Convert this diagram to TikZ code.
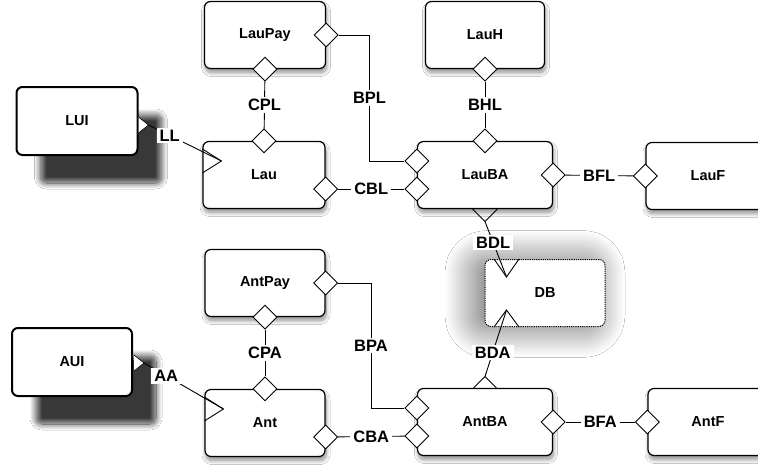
\documentclass[tikz,border=0pt]{standalone}
\usepackage{fontspec}
\setmainfont{Liberation Sans}
\usetikzlibrary{shapes.geometric,calc,shadows,shadows.blur}

\begin{document}
\begin{tikzpicture}[x=1pt, y=-1pt,
    cell/.style={draw, rounded corners=6pt, fill=white, line width=1.2pt,
        minimum height=67pt, inner sep=0pt, font=\fontsize{14.5}{16}\selectfont\bfseries},
    box/.style={cell, blur shadow={shadow xshift=1pt, shadow yshift=-4pt,
        shadow blur radius=4pt, shadow blur steps=12, shadow opacity=45}},
    uibox/.style={cell, line width=2pt, minimum height=68pt, blur shadow={shadow xshift=24pt,
        shadow yshift=-28pt, shadow blur radius=6pt, shadow blur steps=15, shadow opacity=78}},
    dbbox/.style={cell, densely dotted, line width=1pt, blur shadow={shadow xshift=-10pt,
        shadow yshift=-1pt, shadow blur radius=30pt, shadow blur extra rounding=12pt,
        shadow blur steps=40, shadow opacity=60}},
    dmd/.style={diamond, draw, fill=white, inner sep=0pt, minimum size=24pt, line width=0.9pt},
    link/.style={line width=0.9pt},
    lbl/.style={fill=white, inner xsep=3pt, inner ysep=2pt, font=\fontsize{16.5}{18}\selectfont\bfseries}
]
    % Canvas
    \fill[white] (0,0) rectangle (758,467);
    \useasboundingbox (0,0) rectangle (758,467);

    % Boxes
    \foreach \name/\x/\y/\w/\sty in {
        LUI/77/121/121/uibox,
        AUI/72/362/120/uibox,
        LauPay/265/35/121/box,
        LauH/485/35/119/box,
        Lau/264/175/122/box,
        LauBA/485/175/135/box,
        LauF/708/176/124/box,
        AntPay/265/283/120/box,
        Ant/265/423/120/box,
        AntBA/485/422/135/box,
        AntF/708/422/120/box,
        DB/545/293/120/dbbox} {
        \node[\sty, minimum width=\w pt] (\name) at (\x,\y) {\name};
    }

    % Diamond ends
    \foreach \d/\anc/\dy in {
        LauPay-r/LauPay.east/0, LauPay-b/LauPay.south/0,
        LauH-b/LauH.south/0,
        Lau-t/Lau.north/0, Lau-r/Lau.east/-14,
        LauBA-t/LauBA.north/0, LauBA-r/LauBA.east/0,
        LauBA-ul/LauBA.west/14, LauBA-ll/LauBA.west/-14,
        LauF-l/LauF.west/0,
        AntPay-r/AntPay.east/0, AntPay-b/AntPay.south/0,
        Ant-t/Ant.north/0, Ant-r/Ant.east/-14,
        AntBA-r/AntBA.east/0,
        AntBA-ul/AntBA.west/14, AntBA-ll/AntBA.west/-14,
        AntF-l/AntF.west/0} {
        \node[dmd] (\d) at ([yshift=\dy pt]\anc) {};
    }

    % Half hidden ends
    \node[dmd, draw=none, fill=none] (LauBA-b) at (LauBA.south) {};
    \node[dmd, draw=none, fill=none, minimum size=22pt] (AntBA-t) at (AntBA.north) {};
    \draw[link] (LauBA-b.west) -- (LauBA-b.south) -- (LauBA-b.east);
    \draw[link] (AntBA-t.west) -- (AntBA-t.north) -- (AntBA-t.east);

    % Arrow points
    \coordinate (LUI-a) at ([xshift=10pt, yshift=-4pt]LUI.east);
    \coordinate (AUI-a) at ([xshift=11pt, yshift=-1pt]AUI.east);
    \coordinate (Lau-a) at ([xshift=19pt, yshift=14pt]Lau.west);
    \coordinate (Ant-a) at ([xshift=19pt, yshift=14pt]Ant.west);
    \coordinate (DB-ta) at ([xshift=22pt, yshift=-18pt]DB.north west);
    \coordinate (DB-ba) at ([xshift=22pt, yshift=17pt]DB.south west);

    \foreach \p in {LUI-a, AUI-a}
        \draw[fill=white, line width=0.6pt] ($(\p)+(-10,-8)$) -- (\p) -- ($(\p)+(-10,8)$);
    \foreach \p in {Lau-a, Ant-a}
        \draw[link] ($(\p)+(-19,-12)$) -- (\p) -- ($(\p)+(-19,12)$);
    \draw[link] ($(DB-ta)+(-12.5,-18)$) -- (DB-ta) -- ($(DB-ta)+(12.5,-18)$);
    \draw[link] ($(DB-ba)+(-12.5,17)$) -- (DB-ba) -- ($(DB-ba)+(12.5,17)$);

    % Straight connectors
    \foreach \a/\b/\t in {
        LauPay-b/Lau-t/CPL, LauH-b/LauBA-t/BHL, Lau-r/LauBA-ll/CBL, LauBA-r/LauF-l/BFL,
        AntPay-b/Ant-t/CPA, Ant-r/AntBA-ll/CBA, AntBA-r/AntF-l/BFA} {
        \draw[link] (\a) -- (\b) node[lbl, midway] {\t};
    }

    % Elbow connectors
    \draw[link] (LauPay-r.east) -- ++(31,0) |- (LauBA-ul.west) node[lbl, pos=0.25] {BPL};
    \draw[link] (AntPay-r.east) -- ++(33,0) |- (AntBA-ul.west) node[lbl, pos=0.25] {BPA};

    % Slanted connectors
    \draw[link] (LUI-a) -- (Lau-a) node[lbl, pos=0.29] {LL};
    \draw[link] (AUI-a) -- (Ant-a) node[lbl, pos=0.28] {AA};
    \draw[link] (LauBA-b.south) -- (DB-ta) node[lbl, pos=0.38] {BDL};
    \draw[link] (AntBA-t.north) -- (DB-ba) node[lbl, pos=0.36] {BDA};
\end{tikzpicture}
\end{document}
